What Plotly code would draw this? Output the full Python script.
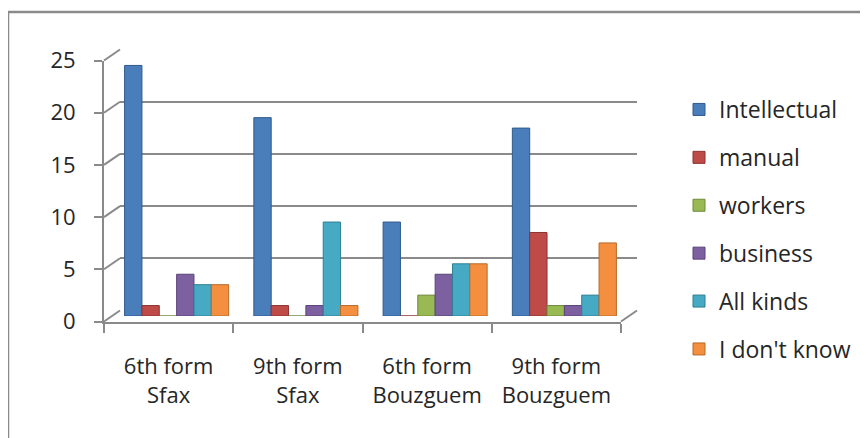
import plotly.graph_objects as go

categories = ["6th form<br>Sfax", "9th form<br>Sfax", "6th form<br>Bouzguem", "9th form<br>Bouzguem"]
series_names = ["Intellectual", "manual", "workers", "business", "All kinds", "I don't know"]
intellectual = [24, 19, 9, 18]
manual = [1, 1, 0, 8]
workers = [0, 0, 2, 1]
business = [4, 1, 4, 1]
all_kinds = [3, 9, 5, 2]
dont_know = [3, 1, 5, 7]
y_ticks = [0, 5, 10, 15, 20, 25]

series_values = [intellectual, manual, workers, business, all_kinds, dont_know]
colors = ["#4A7EBB", "#BE4B48", "#98B954", "#7D60A0", "#46AAC4", "#F38F3F"]
edge_colors = ["#2F5A8C", "#8C3330", "#6E8A3A", "#5A4478", "#2F7F93", "#B86A2A"]

# the page body has an 8px margin: the figure occupies window pixels 8..868 x 8..438
OFF = 8
W, H = 868 - OFF, 438 - OFF
def px(x):
    return (x - OFF) / W
def py(y):
    return (H - (y - OFF)) / H

# depth geometry (window pixels)
front_x = (104, 621); front_y0, front_y25 = 321.5, 60.5
dx, dy = 16, -11
mid_x = (front_x[0] + dx / 2, front_x[1] + dx / 2)
back_x = (front_x[0] + dx, front_x[1] + dx)

FONT = "Open Sans"
TXT = "#262626"
GRID = "#8A8A8A"
CAT_RANGE = [-0.5, len(categories) - 0.5]

fig = go.Figure()

# back wall subplot (x, y): gridlines only
fig.add_trace(go.Scatter(x=[], y=[], xaxis="x", yaxis="y", showlegend=False, hoverinfo="skip"))
# front axes subplot (x2, y2): labels
fig.add_trace(go.Scatter(x=[], y=[], xaxis="x2", yaxis="y2", showlegend=False, hoverinfo="skip"))

for i, (name, vals) in enumerate(zip(series_names, series_values)):
    fig.add_trace(go.Bar(
        x=categories, y=vals, name=name, xaxis="x3", yaxis="y3",
        marker=dict(color=colors[i], line=dict(color=edge_colors[i], width=1)),
        legendgroup=name,
    ))

fig.update_layout(
    width=W, height=H,
    margin=dict(l=0, r=0, t=0, b=0, autoexpand=False),
    paper_bgcolor="white", plot_bgcolor="rgba(0,0,0,0)",
    barmode="group", bargap=0.195, bargroupgap=0,
    font=dict(family=FONT, size=22, color=TXT),
    xaxis=dict(domain=[px(back_x[0]), px(back_x[1])], anchor="y", type="category",
               categoryarray=categories, categoryorder="array", range=CAT_RANGE,
               visible=False),
    yaxis=dict(domain=[py(front_y0 + dy), py(front_y25 + dy)], anchor="x",
               range=[0, 25], dtick=5, showgrid=True, gridcolor=GRID, gridwidth=2,
               zeroline=False, showticklabels=False, showline=False, ticks=""),
    xaxis2=dict(domain=[px(front_x[0]), px(front_x[1])], anchor="y2", type="category",
                categoryarray=categories, categoryorder="array", range=CAT_RANGE,
                tickson="boundaries", ticks="outside", ticklen=9, tickwidth=2, tickcolor=GRID,
                showline=True, linecolor=GRID, linewidth=2, showgrid=False, tickangle=0,
                tickfont=dict(family=FONT, size=22, color=TXT), ticklabelstandoff=24),
    yaxis2=dict(domain=[py(front_y0), py(front_y25)], anchor="x2",
                range=[0, 25], tickvals=y_ticks, ticks="outside", ticklen=8, tickwidth=2,
                tickcolor=GRID, showline=True, linecolor=GRID, linewidth=2,
                showgrid=False, zeroline=False,
                tickfont=dict(family=FONT, size=22, color=TXT), ticklabelstandoff=14),
    xaxis3=dict(domain=[px(mid_x[0]), px(mid_x[1])], anchor="y3", type="category",
                categoryarray=categories, categoryorder="array", range=CAT_RANGE,
                visible=False),
    yaxis3=dict(domain=[py(front_y0 + dy / 2), py(front_y25 + dy / 2)], anchor="x3",
                range=[0, 25], visible=False),
    legend=dict(x=px(679), y=py(88), xanchor="left", yanchor="top",
                font=dict(family=FONT, size=23, color=TXT),
                tracegroupgap=15, itemwidth=30, bgcolor="rgba(0,0,0,0)"),
)

shapes = []
# diagonals joining front axis ticks to the back wall
def fy(v):
    return front_y0 + (front_y25 - front_y0) * v / 25.0
for v in y_ticks:
    shapes.append(dict(type="line", xref="paper", yref="paper",
                       x0=px(front_x[0]), y0=py(fy(v)), x1=px(back_x[0]), y1=py(fy(v) + dy),
                       line=dict(color=GRID, width=2)))
# right floor edge
shapes.append(dict(type="line", xref="paper", yref="paper",
                   x0=px(front_x[1]), y0=py(front_y0), x1=px(back_x[1]), y1=py(front_y0 + dy),
                   line=dict(color=GRID, width=2)))
# chart area border (top and left)
shapes.append(dict(type="line", xref="paper", yref="paper", x0=px(8), y0=py(12), x1=1, y1=py(12),
                   line=dict(color="#8A8A8A", width=2.5)))
shapes.append(dict(type="line", xref="paper", yref="paper", x0=px(8), y0=py(12), x1=px(8), y1=0,
                   line=dict(color="#8A8A8A", width=2.5)))
fig.update_layout(shapes=shapes)

fig.write_html("out.html")
